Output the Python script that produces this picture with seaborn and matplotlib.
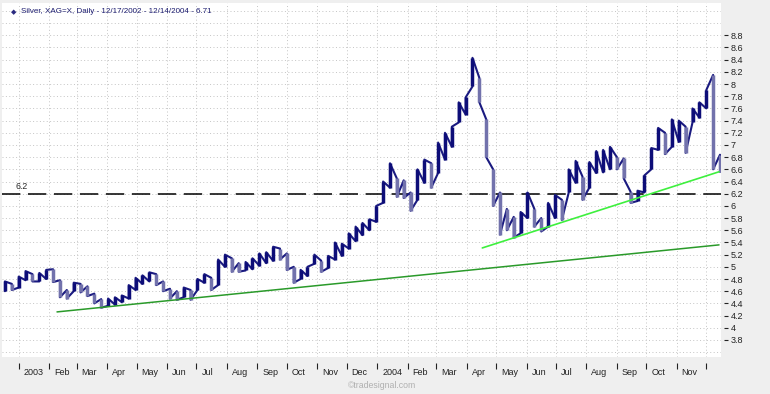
import numpy as np
import pandas as pd
import matplotlib
matplotlib.use("Agg")
import matplotlib.pyplot as plt
import seaborn as sns

# Silver (XAG=X), weekly high/low
week_start = pd.date_range("2002-12-16", periods=105, freq="7D")
week_high = [
    4.76, 4.72, 4.84, 4.93, 4.88, 4.90, 4.95, 4.96, 4.78, 4.62,
    4.74, 4.72, 4.68, 4.56, 4.47, 4.48, 4.50, 4.53, 4.70, 4.82,
    4.86, 4.91, 4.88, 4.76, 4.64, 4.60, 4.66, 4.62, 4.80, 4.88,
    4.82, 5.12, 5.20, 5.14, 5.06, 5.08, 5.14, 5.22, 5.24, 5.33,
    5.30, 5.22, 5.00, 4.95, 5.00, 5.20, 5.10, 5.18, 5.40, 5.38,
    5.55, 5.66, 5.72, 5.78, 6.00, 6.40, 6.70, 6.45, 6.42, 6.22,
    6.60, 6.76, 6.70, 7.04, 7.20, 7.30, 7.70, 7.78, 8.43, 8.10,
    7.42, 6.60, 6.22, 5.95, 5.82, 5.90, 6.22, 5.95, 5.80, 6.05,
    6.18, 6.10, 6.60, 6.74, 6.48, 6.72, 6.90, 6.92, 6.97, 6.80,
    6.78, 6.23, 6.25, 6.50, 6.95, 7.28, 7.20, 7.42, 7.40, 7.30,
    7.60, 7.70, 7.90, 8.15, 6.84,
]
week_low = [
    4.60, 4.62, 4.66, 4.78, 4.76, 4.76, 4.80, 4.75, 4.50, 4.48,
    4.60, 4.58, 4.52, 4.40, 4.33, 4.36, 4.38, 4.42, 4.48, 4.62,
    4.72, 4.76, 4.70, 4.60, 4.48, 4.46, 4.50, 4.46, 4.62, 4.74,
    4.62, 4.70, 5.00, 4.92, 4.92, 4.94, 4.96, 5.02, 5.06, 5.10,
    5.12, 4.95, 4.74, 4.80, 4.85, 5.05, 4.92, 4.98, 5.12, 5.18,
    5.30, 5.42, 5.52, 5.60, 5.74, 6.05, 6.30, 6.15, 6.13, 5.92,
    6.10, 6.38, 6.30, 6.54, 6.76, 6.97, 7.37, 7.50, 7.96, 7.70,
    6.80, 6.00, 5.53, 5.60, 5.48, 5.55, 5.80, 5.66, 5.58, 5.66,
    5.80, 5.77, 6.22, 6.38, 6.10, 6.30, 6.54, 6.55, 6.60, 6.60,
    6.45, 6.05, 6.08, 6.22, 6.60, 6.92, 6.85, 6.97, 7.05, 6.87,
    7.37, 7.45, 7.60, 6.60, 6.56,
]

# trend lines and reference level
long_trend_dates = pd.to_datetime(["2003-02-09", "2004-12-14"])
long_trend_vals = [4.26, 5.36]
short_trend_dates = pd.to_datetime(["2004-04-17", "2004-12-14"])
short_trend_vals = [5.31, 6.56]
ref_level = 6.2

ytick_vals = np.round(np.arange(3.8, 8.81, 0.2), 1)
month_ticks = pd.date_range("2003-01-01", "2004-12-01", freq="MS")
month_labels = ["2003", "Feb", "Mar", "Apr", "May", "Jun", "Jul", "Aug", "Sep", "Oct", "Nov", "Dec",
                "2004", "Feb", "Mar", "Apr", "May", "Jun", "Jul", "Aug", "Sep", "Oct", "Nov"]

title = "Silver, XAG=X, Daily - 12/17/2002 - 12/14/2004 - 6.71"

df = pd.DataFrame({"date": week_start + pd.Timedelta(days=2), "high": week_high, "low": week_low})
df["mid"] = (df["high"] + df["low"]) / 2
df["up"] = df["mid"].diff().fillna(0) >= 0

# zigzag path: low->high on up weeks, high->low on down weeks
path = []
for _, r in df.iterrows():
    a, b = (r["low"], r["high"]) if r["up"] else (r["high"], r["low"])
    path.append((r["date"], a))
    path.append((r["date"], b))
path = pd.DataFrame(path, columns=["date", "price"])

sns.set_style("white")
plt.rcParams["font.family"] = ["Liberation Sans", "DejaVu Sans"]

fig = plt.figure(figsize=(7.7, 3.94), dpi=100, facecolor="#efefef")
ax = fig.add_axes([2 / 770, 37 / 394, 719 / 770, 354 / 394])
ax.set_facecolor("white")

# price bars
sns.lineplot(data=path, x="date", y="price", sort=False, estimator=None,
             color="#1a1a80", lw=1.5, ax=ax, zorder=3)
up = df[df["up"]]
dn = df[~df["up"]]
ax.vlines(up["date"], up["low"], up["high"], color="#0d0d78", lw=2.5, zorder=3)
ax.vlines(dn["date"], dn["low"], dn["high"], color="#7272ac", lw=2.5, zorder=3)

# trend lines
sns.lineplot(x=long_trend_dates, y=long_trend_vals, color="#2a9a2a", lw=1.1, ax=ax, zorder=4)
sns.lineplot(x=short_trend_dates, y=short_trend_vals, color="#3ef03e", lw=1.2, ax=ax, zorder=4)

# horizontal level
ax.axhline(ref_level, color="black", lw=1.1, dashes=(12, 5), zorder=2)
ax.text(pd.Timestamp("2002-12-29"), ref_level + 0.04, "6.2", fontsize=6.3, va="bottom", ha="left")

ax.set_xlim(pd.Timestamp("2002-12-15"), pd.Timestamp("2004-12-16"))
ax.set_ylim(3.52, 9.33)

# y axis on the right
ax.yaxis.tick_right()
ax.set_yticks(ytick_vals)
ax.set_yticklabels([f"{v:g}" for v in ytick_vals])
ax.set_yticks([3.6, 9.0, 9.2], minor=True)
ax.tick_params(axis="y", which="major", right=True, direction="out", length=3, width=0.8, pad=2,
               labelsize=6.5, colors="#222222")
ax.tick_params(axis="y", which="minor", length=0)

# x axis: ticks at month starts, labels just right of each tick
ax.set_xticks(month_ticks)
ax.set_xticklabels([])
label_pos = month_ticks[:-1] + pd.Timedelta(days=5)
for d, lab in zip(label_pos, month_labels):
    ax.text(d, -0.03, lab, transform=ax.get_xaxis_transform(), fontsize=6.5,
            ha="left", va="top", color="#222222")
ax.tick_params(axis="x", which="major", bottom=True, direction="out", length=4, width=0.8,
               colors="#222222")
ax.tick_params(axis="x", which="minor", bottom=False)

for s in ["top", "left"]:
    ax.spines[s].set_visible(False)
ax.spines["bottom"].set_position(("outward", 4))
ax.spines["right"].set_position(("outward", 2))
ax.spines["bottom"].set_color("none")
ax.spines["right"].set_color("none")

ax.grid(True, which="both", color="#c4c4c4", lw=0.7, dashes=(1, 2.5))
ax.set_xlabel("")
ax.set_ylabel("")

ax.text(0.012, 0.982, "\u25C6", transform=ax.transAxes, fontsize=5, color="#2a2a80",
        ha="left", va="top", family="DejaVu Sans")
ax.text(0.027, 0.985, title, transform=ax.transAxes, fontsize=5.8, color="#1c1c70",
        ha="left", va="top")

fig.text(348 / 770, 1 - 385 / 394, "\u00a9tradesignal.com", fontsize=6.3, color="#b0b0b0",
         ha="left", va="center")

fig.savefig("out.png", dpi=100, facecolor=fig.get_facecolor())
